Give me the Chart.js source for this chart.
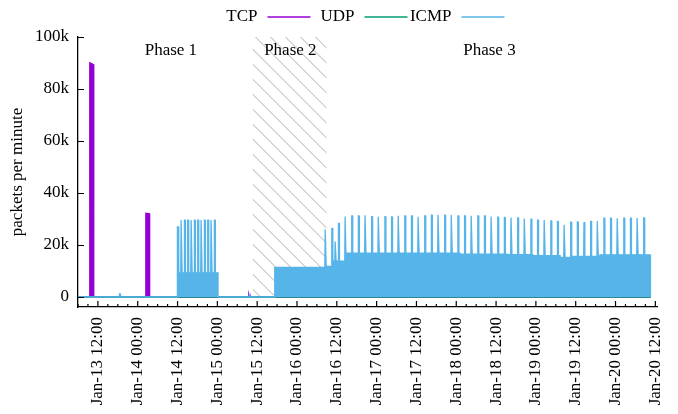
<!DOCTYPE html>
<html><head><meta charset="utf-8">
<script src="https://cdn.jsdelivr.net/npm/chart.js@4/dist/chart.umd.min.js"></script>
<style>html,body{margin:0;padding:0;background:#fff}#wrap{width:678px;height:414px}</style>
</head><body><div id="wrap"><canvas id="c" width="678" height="414"></canvas></div>
<script>
// ---- data (x = hours since Jan-13 00:00) ----
const seriesNames = ['TCP', 'UDP', 'ICMP'];
const seriesColors = ['#9400d3', '#009e73', '#56b4e9'];

const tcpHours  = [6, 9.5, 9.55, 10.7, 10.75, 26.4, 26.45, 27.55, 27.6, 57.4, 57.5, 57.6, 178.6];
const tcpValues = [0, 0, 90100, 89400, 0, 0, 32200, 32000, 0, 0, 600, 0, 0];

const udpHours  = [6, 178.6];
const udpValues = [0, 0];

const icmpBounds = [6, 35.86, 48.2, 65.3, 80.8, 82.8, 86.7, 121.1, 135.3, 143.1, 151.3, 154.9, 163.3, 178.4, 178.6];
const icmpLevels = [0, 9300, 0, 11400, 11800, 13800, 16900, 16500, 16300, 15900, 15200, 15600, 16200, 11000];

const icmpSpikeHours = [18.6,
  36.16, 37.18, 38.18, 39.17, 40.2, 41.19, 42.19, 43.2, 44.2, 45.2, 46.2, 47.2,
  58.0, 80.6, 82.6, 83.6, 84.6,
  86.6, 88.6, 90.6, 92.6, 94.6, 96.6, 98.6, 100.6, 102.6, 104.6, 106.6, 108.6, 110.6, 112.6, 114.6, 116.6,
  118.6, 120.6, 122.6, 124.6, 126.6, 128.6, 130.6, 132.6, 134.6, 136.6, 138.6, 140.6, 142.6, 144.6, 146.6,
  148.6, 150.6, 152.6, 154.6, 156.6, 158.6, 160.6, 162.6, 164.6, 166.6, 168.6, 170.6, 172.6, 174.6, 176.6];
const icmpSpikePeaks = [1200,
  27000, 29600, 29600, 29600, 29600, 29600, 29600, 29600, 29600, 29600, 29600, 29600,
  900, 26000, 26400, 21300, 28300,
  31000, 31200, 31200, 31400, 30900, 30900, 30900, 30800, 31200, 31200, 31200, 30900, 31200, 31500, 31600, 31500,
  31500, 31200, 31200, 31200, 31200, 31200, 31000, 30700, 30600, 30600, 30400, 30200, 29900, 29600, 29600,
  29300, 29100, 27800, 28800, 28900, 28800, 29100, 29200, 30300, 30300, 30300, 30300, 30300, 30400, 30400];

const phaseNames = ['Phase 1', 'Phase 2', 'Phase 3'];
const phaseLabelHours = [34, 70, 130];
const phaseLabelValue = 94700;
const phase2Range = [58.6, 80.9];

const xTickHours  = [12, 24, 36, 48, 60, 72, 84, 96, 108, 120, 132, 144, 156, 168, 180];
const xTickLabels = ['Jan-13 12:00', 'Jan-14 00:00', 'Jan-14 12:00', 'Jan-15 00:00', 'Jan-15 12:00',
  'Jan-16 00:00', 'Jan-16 12:00', 'Jan-17 00:00', 'Jan-17 12:00', 'Jan-18 00:00', 'Jan-18 12:00',
  'Jan-19 00:00', 'Jan-19 12:00', 'Jan-20 00:00', 'Jan-20 12:00'];
const xMinorStepHours = 3;
const yTickValues = [0, 20000, 40000, 60000, 80000, 100000];
const yTickLabels = ['0', '20k', '40k', '60k', '80k', '100k'];
const yAxisTitle = 'packets per minute';

// ---- build datasets ----
const FONT = '"Liberation Serif", "Times New Roman", serif';
function pairs(xs, ys) { return xs.map((x, i) => ({x: x, y: ys[i]})); }
function buildSteps(bounds, levels, spH, spV) {
  const D = 0.2, pts = [];
  for (let i = 0; i < levels.length; i++) {
    const a = bounds[i], b = bounds[i + 1], lv = levels[i];
    pts.push({x: a, y: lv});
    spH.forEach((h, j) => {
      if (h > a && h < b) pts.push({x: h - D, y: lv}, {x: h - D / 2, y: spV[j]}, {x: h + D / 2, y: spV[j]}, {x: h + D, y: lv});
    });
    pts.push({x: b, y: lv});
  }
  pts.push({x: bounds[bounds.length - 1], y: 0});
  return pts;
}
const seriesData = [pairs(tcpHours, tcpValues), pairs(udpHours, udpValues),
  buildSteps(icmpBounds, icmpLevels, icmpSpikeHours, icmpSpikePeaks)];

const gnuplotDecor = {
  id: 'gnuplotDecor',
  beforeDatasetsDraw(chart) {
    const {ctx, scales: {x, y}} = chart;
    const x0 = x.getPixelForValue(phase2Range[0]), x1 = x.getPixelForValue(phase2Range[1]);
    const yt = y.getPixelForValue(100000), yb = y.getPixelForValue(0);
    ctx.save();
    ctx.beginPath(); ctx.rect(x0, yt, x1 - x0, yb - yt); ctx.clip();
    ctx.strokeStyle = '#9a9a9a'; ctx.lineWidth = 0.8;
    const sp = 15, h = yb - yt;
    for (let c = yt - (x1 - x0) - sp; c < yb + sp; c += sp) {
      ctx.beginPath(); ctx.moveTo(x0, c + 11); ctx.lineTo(x0 + h + 40, c + 11 + h + 40); ctx.stroke();
    }
    ctx.restore();
  },
  afterDatasetsDraw(chart) {
    const {ctx, scales: {x, y}} = chart;
    ctx.save();
    ctx.fillStyle = '#000'; ctx.font = '17px ' + FONT;
    ctx.textAlign = 'center'; ctx.textBaseline = 'middle';
    phaseNames.forEach((t, i) => ctx.fillText(t, x.getPixelForValue(phaseLabelHours[i]), y.getPixelForValue(phaseLabelValue)));
    ctx.restore();
  },
  afterDraw(chart) {
    const {ctx, chartArea: ca, scales: {x, y}} = chart;
    ctx.save();
    ctx.strokeStyle = '#000'; ctx.lineWidth = 1.2;
    ctx.beginPath();
    yTickValues.forEach(v => { const p = Math.round(y.getPixelForValue(v)) + 0.5; ctx.moveTo(ca.left, p); ctx.lineTo(ca.left + 6, p); });
    for (let hh = Math.ceil(x.min / xMinorStepHours) * xMinorStepHours; hh <= x.max; hh += xMinorStepHours) {
      const p = x.getPixelForValue(hh);
      const len = xTickHours.includes(hh) ? 6 : 3;
      ctx.moveTo(p, ca.bottom); ctx.lineTo(p, ca.bottom - len);
    }
    ctx.stroke();
    // legend (gnuplot style: text then sample)
    const cx = (ca.left + ca.right) / 2, ly = 17;
    ctx.font = '17px ' + FONT; ctx.fillStyle = '#000';
    ctx.textAlign = 'right'; ctx.textBaseline = 'middle';
    seriesNames.forEach((n, i) => {
      const tr = cx - 110 + i * 97;
      ctx.fillText(n, tr, ly);
      ctx.strokeStyle = seriesColors[i]; ctx.lineWidth = 1.5;
      ctx.beginPath(); ctx.moveTo(tr + 10, ly); ctx.lineTo(tr + 53, ly); ctx.stroke();
    });
    ctx.restore();
  }
};

new Chart(document.getElementById('c'), {
  type: 'line',
  data: {
    datasets: seriesNames.map((n, i) => ({
      label: n, data: seriesData[i],
      borderColor: seriesColors[i], backgroundColor: seriesColors[i],
      borderWidth: 1.3, pointRadius: 0, tension: 0, fill: 'origin', order: 2 - i
    }))
  },
  options: {
    responsive: false, animation: false,
    layout: {padding: {top: 37, right: 21, left: 0, bottom: 0}},
    plugins: {legend: {display: false}, tooltip: {enabled: false}},
    scales: {
      x: {
        type: 'linear', min: 6, max: 180.5,
        afterBuildTicks: s => { s.ticks = xTickHours.map(v => ({value: v})); },
        afterFit: s => { s.height = 107; s.paddingLeft = 0; s.paddingRight = 0; },
        ticks: {
          autoSkip: false, minRotation: 90, maxRotation: 90, padding: 10, color: '#000',
          font: {family: FONT, size: 17},
          callback: v => xTickLabels[xTickHours.indexOf(v)]
        },
        grid: {display: false, drawTicks: false},
        border: {display: true, color: '#000', width: 1.3}
      },
      y: {
        type: 'linear', min: -3850, max: 100000,
        afterBuildTicks: s => { s.ticks = yTickValues.map(v => ({value: v})); },
        afterFit: s => { s.width = 78; s.paddingTop = 0; s.paddingBottom = 0; },
        ticks: {
          padding: 9, color: '#000', font: {family: FONT, size: 17},
          callback: v => yTickLabels[yTickValues.indexOf(v)]
        },
        title: {display: true, text: yAxisTitle, color: '#000', font: {family: FONT, size: 17}, padding: {top: 7, bottom: 0}},
        grid: {display: false, drawTicks: false},
        border: {display: true, color: '#000', width: 1.3}
      }
    }
  },
  plugins: [gnuplotDecor]
});
</script>
</body></html>
